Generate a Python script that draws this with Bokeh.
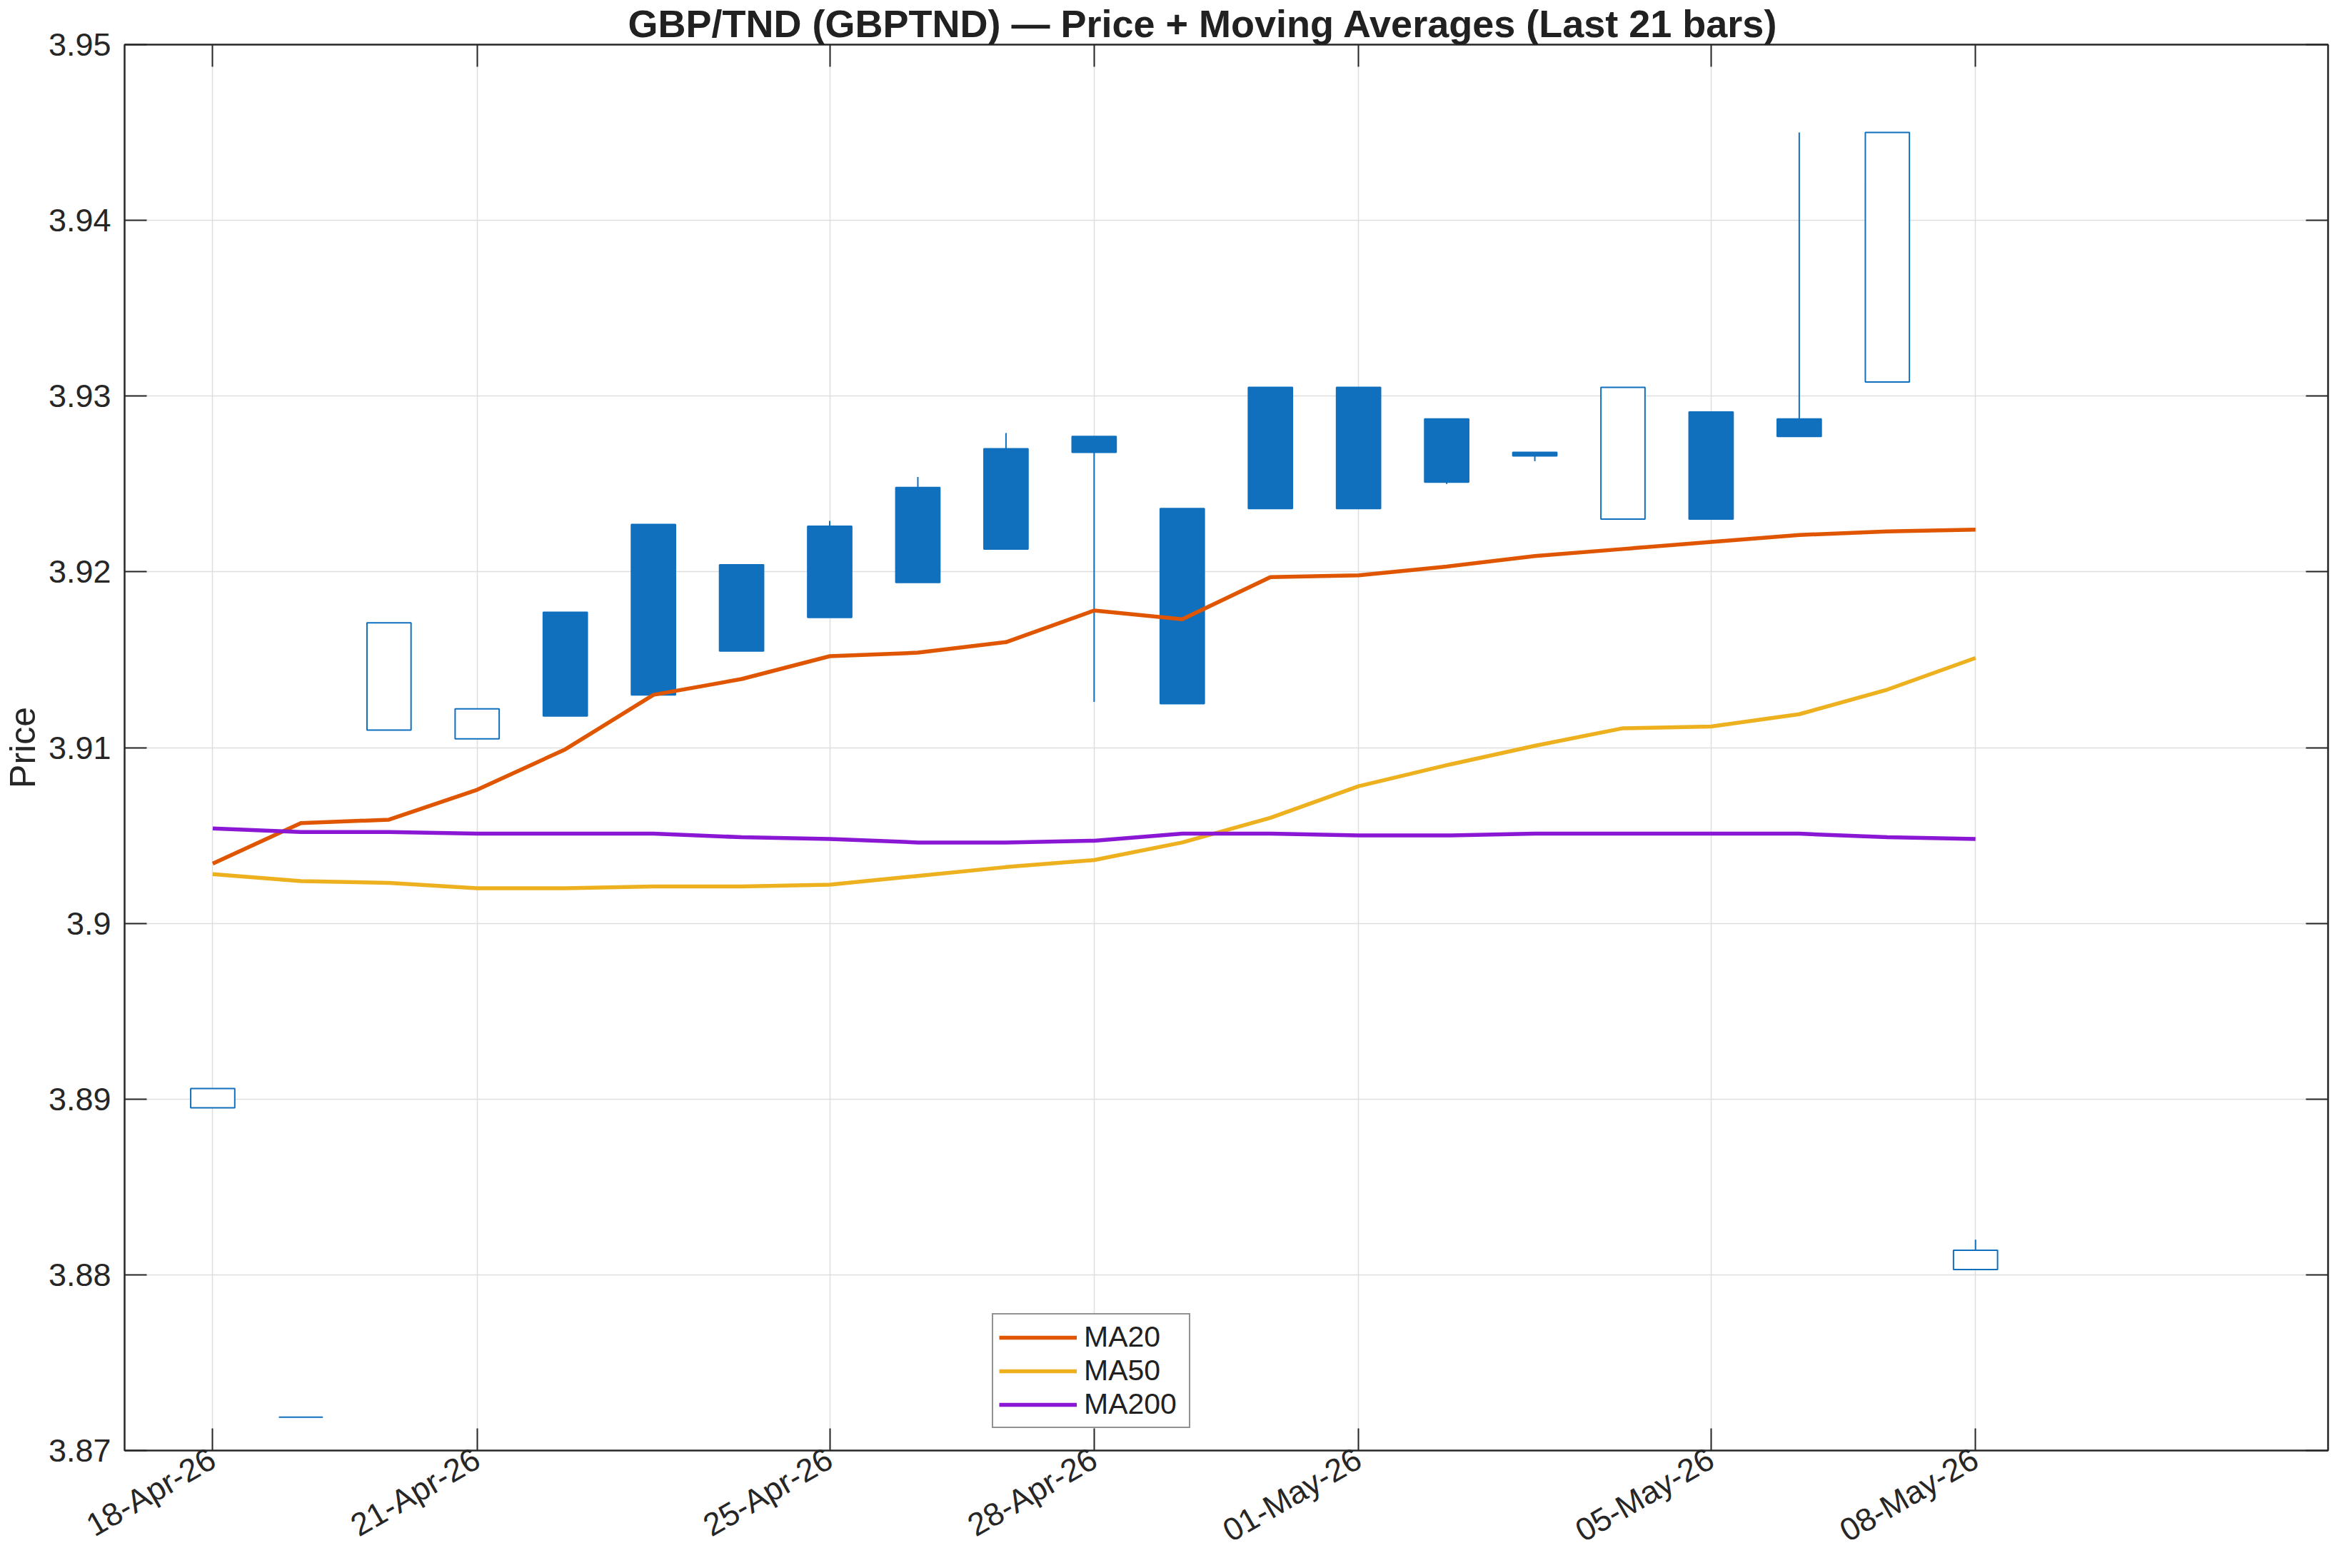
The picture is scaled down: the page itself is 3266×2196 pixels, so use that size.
import math
import pandas as pd
from bokeh.plotting import figure
from bokeh.models import (ColumnDataSource, FixedTicker, LinearAxis, DatetimeAxis, Legend,
                          LegendItem, CustomJSTickFormatter, Range1d)
from bokeh.embed import file_html
from bokeh.resources import INLINE

# ---------------- data ----------------
dates = ["2026-04-18", "2026-04-19", "2026-04-20", "2026-04-21", "2026-04-22", "2026-04-23",
         "2026-04-24", "2026-04-25", "2026-04-26", "2026-04-27", "2026-04-28", "2026-04-29",
         "2026-04-30", "2026-05-01", "2026-05-02", "2026-05-03", "2026-05-04", "2026-05-05",
         "2026-05-06", "2026-05-07", "2026-05-08"]
opens = [3.8895, 3.8719, 3.9110, 3.9105, 3.9177, 3.9227, 3.9204, 3.9226, 3.9248, 3.9270, 3.9277,
         3.9236, 3.9305, 3.9305, 3.9287, 3.9268, 3.9230, 3.9291, 3.9287, 3.9308, 3.8803]
highs = [3.8906, 3.8719, 3.9171, 3.9122, 3.9177, 3.9227, 3.9204, 3.9229, 3.9254, 3.9279, 3.9277,
         3.9236, 3.9305, 3.9305, 3.9287, 3.9268, 3.9305, 3.9291, 3.9450, 3.9450, 3.8820]
lows = [3.8895, 3.8719, 3.9110, 3.9105, 3.9118, 3.9130, 3.9155, 3.9174, 3.9194, 3.9213, 3.9126,
        3.9125, 3.9236, 3.9236, 3.9250, 3.9263, 3.9230, 3.9230, 3.9277, 3.9308, 3.8803]
closes = [3.8906, 3.8719, 3.9171, 3.9122, 3.9118, 3.9130, 3.9155, 3.9174, 3.9194, 3.9213, 3.9268,
          3.9125, 3.9236, 3.9236, 3.9251, 3.9266, 3.9305, 3.9230, 3.9277, 3.9450, 3.8814]
ma20 = [3.9034, 3.9057, 3.9059, 3.9076, 3.9099, 3.9130, 3.9139, 3.9152, 3.9154, 3.9160, 3.9178,
        3.9173, 3.9197, 3.9198, 3.9203, 3.9209, 3.9213, 3.9217, 3.9221, 3.9223, 3.9224]
ma50 = [3.9028, 3.9024, 3.9023, 3.9020, 3.9020, 3.9021, 3.9021, 3.9022, 3.9027, 3.9032, 3.9036,
        3.9046, 3.9060, 3.9078, 3.9090, 3.9101, 3.9111, 3.9112, 3.9119, 3.9133, 3.9151]
ma200 = [3.9054, 3.9052, 3.9052, 3.9051, 3.9051, 3.9051, 3.9049, 3.9048, 3.9046, 3.9046, 3.9047,
         3.9051, 3.9051, 3.9050, 3.9050, 3.9051, 3.9051, 3.9051, 3.9051, 3.9049, 3.9048]
x_tick_dates = ["2026-04-18", "2026-04-21", "2026-04-25", "2026-04-28", "2026-05-01",
                "2026-05-05", "2026-05-08"]
x_tick_labels = ["18-Apr-26", "21-Apr-26", "25-Apr-26", "28-Apr-26", "01-May-26",
                 "05-May-26", "08-May-26"]
y_ticks = [3.87, 3.88, 3.89, 3.90, 3.91, 3.92, 3.93, 3.94, 3.95]
x_limits = ["2026-04-17", "2026-05-12"]
y_limits = [3.87, 3.95]
title_text = "GBP/TND (GBPTND) \u2014 Price + Moving Averages (Last 21 bars)"

# ---------------- build ----------------
BLUE = "#1170BE"
FONT = "Liberation Sans"
TXT = "#262626"

xs = pd.to_datetime(dates)
up = [c >= o for o, c in zip(opens, closes)]
src = ColumnDataSource(dict(x=xs, o=opens, h=highs, l=lows, c=closes,
                            top=[max(o, c) for o, c in zip(opens, closes)],
                            bot=[min(o, c) for o, c in zip(opens, closes)]))
up_idx = [i for i, u in enumerate(up) if u]
dn_idx = [i for i, u in enumerate(up) if not u]


def sub(idx):
    return ColumnDataSource({k: [v[i] for i in idx] for k, v in src.data.items()})


tick_ms = [int(pd.Timestamp(d).value // 10**6) for d in x_tick_dates]

p = figure(width=3266, height=2196, x_axis_type="datetime", output_backend="svg",
           toolbar_location=None,
           x_range=Range1d(pd.Timestamp(x_limits[0]), pd.Timestamp(x_limits[1])),
           y_range=Range1d(y_limits[0], y_limits[1]))
p.min_border_left = 173
p.min_border_right = 6
p.min_border_top = 56
p.min_border_bottom = 165
p.background_fill_color = "white"
p.border_fill_color = "white"
p.outline_line_color = TXT
p.outline_line_width = 2

p.title.text = title_text
p.title.text_font = FONT
p.title.text_font_size = "54px"
p.title.text_font_style = "bold"
p.title.text_color = "#212121"
p.title.align = "left"
p.title.offset = 705
p.title.standoff = 0

bar_w = 0.5 * 86400000
p.segment(x0="x", y0="l", x1="x", y1="h", source=src, line_color=BLUE, line_width=2)
p.vbar(x="x", width=bar_w, top="top", bottom="bot", source=sub(dn_idx),
       fill_color=BLUE, line_color=BLUE, line_width=2)
p.vbar(x="x", width=bar_w, top="top", bottom="bot", source=sub(up_idx),
       fill_color="white", line_color=BLUE, line_width=2)

r20 = p.line(xs, ma20, line_color="#DF5500", line_width=5.5)
r50 = p.line(xs, ma50, line_color="#EDB120", line_width=5.5)
r200 = p.line(xs, ma200, line_color="#8A17D4", line_width=5.5)

ytick_fmt = CustomJSTickFormatter(code="return String(Math.round(tick*100)/100);")
blank_fmt = CustomJSTickFormatter(code="return '';")


def style_axis(ax):
    ax.axis_line_color = TXT
    ax.axis_line_width = 2
    ax.major_tick_line_color = TXT
    ax.major_tick_line_width = 2
    ax.major_tick_in = 31
    ax.major_tick_out = 0
    ax.minor_tick_line_color = None
    ax.major_label_text_font = FONT
    ax.major_label_text_color = TXT
    ax.major_label_text_font_size = "45px"


def blank_axis(ax):
    style_axis(ax)
    ax.formatter = blank_fmt
    ax.major_label_text_font_size = "1px"
    ax.major_label_standoff = 0


xa = p.xaxis[0]
style_axis(xa)
xa.ticker = FixedTicker(ticks=tick_ms)
xa.formatter = CustomJSTickFormatter(
    args=dict(tvals=tick_ms, tlabels=x_tick_labels),
    code="""
let best = -1, bd = Infinity;
for (let i = 0; i < tvals.length; i++) {
  const d = Math.abs(tvals[i] - tick);
  if (d < bd) { bd = d; best = i; }
}
return (best >= 0 && bd < 3600000) ? tlabels[best] : '';
""")
xa.major_label_orientation = math.pi / 6
xa.major_label_standoff = 8

ya = p.yaxis[0]
style_axis(ya)
ya.ticker = FixedTicker(ticks=y_ticks)
ya.formatter = ytick_fmt
ya.major_label_standoff = 19
ya.axis_label = "Price"
ya.axis_label_text_font = FONT
ya.axis_label_text_font_size = "50px"
ya.axis_label_text_font_style = "normal"
ya.axis_label_text_color = TXT
ya.axis_label_standoff = 5

ra = LinearAxis(ticker=FixedTicker(ticks=y_ticks))
blank_axis(ra)
p.add_layout(ra, "right")

ta = DatetimeAxis(ticker=FixedTicker(ticks=tick_ms))
blank_axis(ta)
p.add_layout(ta, "above")

p.xgrid.ticker = FixedTicker(ticks=tick_ms)
p.ygrid.ticker = FixedTicker(ticks=y_ticks)
for g in (p.xgrid[0], p.ygrid[0]):
    g.grid_line_color = "#dedede"
    g.grid_line_width = 1.5

legend = Legend(items=[LegendItem(label="MA20", renderers=[r20]),
                       LegendItem(label="MA50", renderers=[r50]),
                       LegendItem(label="MA200", renderers=[r200])],
                location=(1215, 31))
legend.border_line_color = TXT
legend.border_line_width = 2
legend.label_text_font = FONT
legend.label_text_font_size = "41px"
legend.label_text_color = "#212121"
legend.glyph_width = 109
legend.glyph_height = 40
legend.label_height = 40
legend.label_width = 139
legend.label_standoff = 10
legend.padding = 8
legend.spacing = 0
legend.margin = 0
legend.background_fill_alpha = 1
p.add_layout(legend, "center")

open("out.html", "w").write(file_html(p, INLINE))
